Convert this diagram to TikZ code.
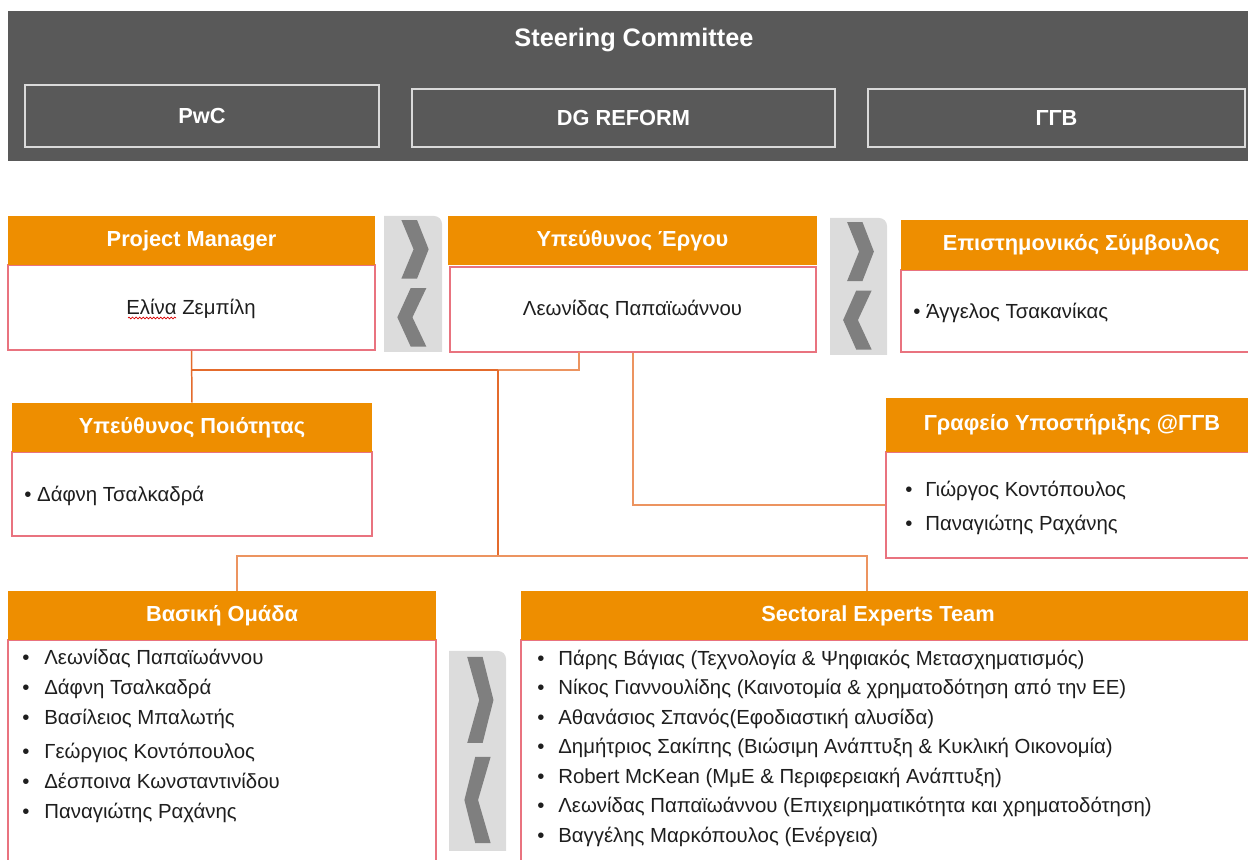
\documentclass[tikz,border=0pt]{standalone}
\usepackage{xcolor}
\usepackage{fontspec}
\setmainfont{Liberation Sans}
\usepackage{tikz}
\usetikzlibrary{decorations.pathmorphing}
\definecolor{PMBand}{HTML}{595959}
\definecolor{PMFrame}{HTML}{DADADA}
\definecolor{PMOrange}{HTML}{EE8E00}
\definecolor{PMPink}{HTML}{E9737F}
\definecolor{PMLink}{HTML}{E46B2C}
\definecolor{PMLinkLight}{HTML}{EC9460}
\definecolor{PMChevBg}{HTML}{DCDCDC}
\definecolor{PMChev}{HTML}{7F7F7F}
\definecolor{PMText}{HTML}{1E1E1E}

\tikzset{
  head/.style={fill=PMOrange,text=white,inner sep=0pt,font=\bfseries\fontsize{12.4}{14}\selectfont,text height=0.72em,text depth=0.05em},
  body/.style={draw=PMPink,line width=0.8pt,fill=white,inner sep=0pt},
  member/.style={draw=PMFrame,line width=0.8pt,text=white,inner sep=0pt,font=\bfseries\fontsize{12.4}{14}\selectfont},
  item/.style={anchor=base west,yshift=-0.15cm,inner sep=0pt,text=PMText,font=\fontsize{11.6}{13}\selectfont},
  persontext/.style={anchor=base,yshift=-0.15cm,inner sep=0pt,text=PMText,font=\fontsize{11.6}{13}\selectfont},
  link/.style={draw=PMLink,line width=0.85pt},
  linklight/.style={draw=PMLinkLight,line width=0.85pt}
}

\begin{document}
\begin{tikzpicture}[x=1cm,y=1cm]
\path[use as bounding box] (0,0) rectangle (24.96,17.20);

% steering committee
\fill[PMBand] (0.16,13.98) rectangle (24.96,16.98);
\node[text=white,inner sep=0pt,font=\bfseries\fontsize{14.4}{16}\selectfont] (steer) at (12.68,16.40) {Steering Committee};
\node[member,minimum width=7.08cm,minimum height=1.24cm] (pwc) at (4.04,14.88) {PwC};
\node[member,minimum width=8.46cm,minimum height=1.16cm] (dg) at (12.47,14.84) {DG REFORM};
\node[member,minimum width=7.54cm,minimum height=1.16cm] (ggb) at (21.13,14.84) {ΓΓΒ};

% chevron boxes
\fill[PMChevBg] (7.68,10.16) -- (7.68,12.88) -- (8.68,12.88) arc[start angle=90,end angle=0,radius=0.16cm] -- (8.84,10.16) -- cycle;
\fill[PMChevBg] (16.60,10.10) -- (16.60,12.84) -- (17.58,12.84) arc[start angle=90,end angle=0,radius=0.16cm] -- (17.74,10.10) -- cycle;
\fill[PMChevBg] (8.98,0.18) -- (8.98,4.18) -- (9.96,4.18) arc[start angle=90,end angle=0,radius=0.16cm] -- (10.12,0.18) -- cycle;
\begin{scope}[shift={(7.68,10.16)},x=1.16cm,y=2.72cm]
  \fill[PMChev] (0.30,0.97) -- (0.57,0.97) -- (0.77,0.755) -- (0.57,0.54) -- (0.30,0.54) -- (0.51,0.755) -- cycle;
  \fill[PMChev] (0.73,0.47) -- (0.46,0.47) -- (0.23,0.255) -- (0.46,0.04) -- (0.73,0.04) -- (0.49,0.255) -- cycle;
\end{scope}
\begin{scope}[shift={(16.60,10.10)},x=1.14cm,y=2.74cm]
  \fill[PMChev] (0.30,0.97) -- (0.57,0.97) -- (0.77,0.755) -- (0.57,0.54) -- (0.30,0.54) -- (0.51,0.755) -- cycle;
  \fill[PMChev] (0.73,0.47) -- (0.46,0.47) -- (0.23,0.255) -- (0.46,0.04) -- (0.73,0.04) -- (0.49,0.255) -- cycle;
\end{scope}
\begin{scope}[shift={(8.98,0.18)},x=1.14cm,y=4.00cm]
  \fill[PMChev] (0.32,0.97) -- (0.59,0.97) -- (0.78,0.755) -- (0.59,0.54) -- (0.32,0.54) -- (0.53,0.755) -- cycle;
  \fill[PMChev] (0.73,0.47) -- (0.46,0.47) -- (0.27,0.255) -- (0.46,0.04) -- (0.73,0.04) -- (0.51,0.255) -- cycle;
\end{scope}

% boxes
\node[body,minimum width=7.34cm,minimum height=1.70cm] (pmb) at (3.83,11.05) {};
\node[head,minimum width=7.34cm,minimum height=0.98cm] (pmh) at (3.83,12.39) {Project Manager};
\node[persontext] (pmname) at (3.82,11.06) {Ελίνα Ζεμπίλη};
\draw[red!85!black,line width=0.4pt,decorate,decoration={snake,amplitude=0.5pt,segment length=2pt}] (2.56,10.84) -- (3.52,10.84);

\node[body,minimum width=7.32cm,minimum height=1.70cm] (peb) at (12.66,11.01) {};
\node[head,minimum width=7.38cm,minimum height=0.98cm] (peh) at (12.65,12.39) {Υπεύθυνος Έργου};
\node[persontext] (pename) at (12.65,11.04) {Λεωνίδας Παπαϊωάννου};

\node[body,minimum width=7.22cm,minimum height=1.64cm] (esb) at (21.63,10.98) {};
\node[head,minimum width=7.22cm,minimum height=1.00cm] (esh) at (21.63,12.30) {Επιστημονικός Σύμβουλος};
\node[item] (esname) at (18.26,10.98) {• Άγγελος Τσακανίκας};

\node[body,minimum width=7.20cm,minimum height=1.68cm] (qab) at (3.84,7.32) {};
\node[head,minimum width=7.20cm,minimum height=0.98cm] (qah) at (3.84,8.65) {Υπεύθυνος Ποιότητας};
\node[item] (qaname) at (0.48,7.32) {• Δάφνη Τσαλκαδρά};

\node[body,minimum width=7.44cm,minimum height=2.12cm] (sob) at (21.44,7.10) {};
\node[head,minimum width=7.44cm,minimum height=1.08cm] (soh) at (21.44,8.70) {Γραφείο Υποστήριξης @ΓΓΒ};
\node[item] (so1) at (18.10,7.42) {\makebox[0.40cm][l]{•}Γιώργος Κοντόπουλος};
\node[item] (so2) at (18.10,6.74) {\makebox[0.40cm][l]{•}Παναγιώτης Ραχάνης};

\node[body,minimum width=8.56cm,minimum height=4.70cm] (coreb) at (4.44,2.05) {};
\node[head,minimum width=8.56cm,minimum height=0.98cm] (coreh) at (4.44,4.89) {Βασική Ομάδα};
\node[item] (core1) at (0.44,4.06) {\makebox[0.44cm][l]{•}Λεωνίδας Παπαϊωάννου};
\node[item] (core2) at (0.44,3.46) {\makebox[0.44cm][l]{•}Δάφνη Τσαλκαδρά};
\node[item] (core3) at (0.44,2.86) {\makebox[0.44cm][l]{•}Βασίλειος Μπαλωτής};
\node[item] (core4) at (0.44,2.18) {\makebox[0.44cm][l]{•}Γεώργιος Κοντόπουλος};
\node[item] (core5) at (0.44,1.58) {\makebox[0.44cm][l]{•}Δέσποινα Κωνσταντινίδου};
\node[item] (core6) at (0.44,0.98) {\makebox[0.44cm][l]{•}Παναγιώτης Ραχάνης};

\node[body,minimum width=14.68cm,minimum height=4.70cm] (sectb) at (17.76,2.05) {};
\node[head,minimum width=14.68cm,minimum height=0.98cm] (secth) at (17.76,4.89) {Sectoral Experts Team\hspace*{0.40cm}};
\node[item] (sect1) at (10.74,4.04) {\makebox[0.42cm][l]{•}Πάρης Βάγιας (Τεχνολογία \& Ψηφιακός Μετασχηματισμός)};
\node[item] (sect2) at (10.74,3.46) {\makebox[0.42cm][l]{•}Νίκος Γιαννουλίδης (Καινοτομία \& χρηματοδότηση από την ΕΕ)};
\node[item] (sect3) at (10.74,2.86) {\makebox[0.42cm][l]{•}Αθανάσιος Σπανός(Εφοδιαστική αλυσίδα)};
\node[item] (sect4) at (10.74,2.28) {\makebox[0.42cm][l]{•}Δημήτριος Σακίπης (Βιώσιμη Ανάπτυξη \& Κυκλική Οικονομία)};
\node[item] (sect5) at (10.74,1.68) {\makebox[0.42cm][l]{•}Robert McKean (ΜμΕ \& Περιφερειακή Ανάπτυξη)};
\node[item] (sect6) at (10.74,1.10) {\makebox[0.42cm][l]{•}Λεωνίδας Παπαϊωάννου (Επιχειρηματικότητα και χρηματοδότηση)};
\node[item] (sect7) at (10.74,0.50) {\makebox[0.42cm][l]{•}Βαγγέλης Μαρκόπουλος (Ενέργεια)};

% connectors
\coordinate (hub) at (9.96,9.80);
\coordinate (split) at (9.96,6.08);
\coordinate (pelink) at (11.58,10.16);
\coordinate (coretop) at (4.74,5.38);
\coordinate (secttop) at (17.34,5.38);
\draw[link] (pmb.south) -- (qah.north);
\draw[link] (pmb.south |- hub) -- (hub);
\draw[linklight] (hub) -| (pelink);
\draw[link] (hub) -- (split);
\draw[linklight] (coretop) |- (split) -| (secttop);
\draw[linklight] (peb.south) |- (sob.west);
\end{tikzpicture}
\end{document}
